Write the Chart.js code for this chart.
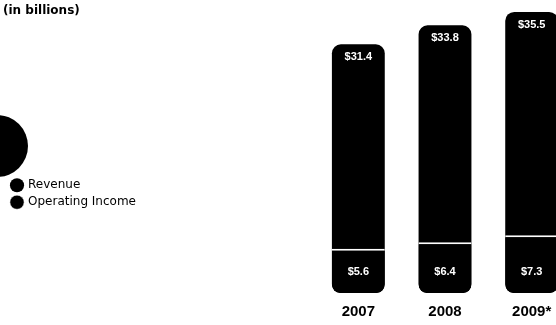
<!DOCTYPE html>
<html>
<head>
<meta charset="utf-8">
<script src="https://cdn.jsdelivr.net/npm/chart.js@4"></script>
<style>
  body { margin: 0; background: #fff; overflow: hidden; }
  #wrap { position: relative; width: 580px; height: 325px; }
  #title { position: absolute; left: 3px; top: 3px; font: bold 12px "DejaVu Sans", sans-serif; color: #000; }
  #blob { position: absolute; left: -34px; top: 115px; width: 62px; height: 62px; border-radius: 50%; background: #000; }
</style>
</head>
<body>
<div id="wrap">
  <div id="title">(in billions)</div>
  <div id="blob"></div>
  <canvas id="myChart" width="580" height="325"></canvas>
</div>
<script>
// datos del grafico
var years = ['2007', '2008', '2009*'];
var revenue = [31.4, 33.8, 35.5];
var operatingIncome = [5.6, 6.4, 7.3];
var revenueLabels = ['$31.4', '$33.8', '$35.5'];
var incomeLabels = ['$5.6', '$6.4', '$7.3'];

// plugin para escribir los valores dentro de las barras
var barText = {
    id: 'barText',
    afterDatasetsDraw: function (chart) {
        var ctx = chart.ctx;
        ctx.save();
        ctx.fillStyle = '#fff';
        ctx.font = 'bold 11px "Liberation Sans", Arial, sans-serif';
        ctx.textAlign = 'center';
        ctx.textBaseline = 'middle';
        chart.getDatasetMeta(1).data.forEach(function (bar, i) {
            ctx.fillText(revenueLabels[i], bar.x, bar.y + 13);
        });
        chart.getDatasetMeta(0).data.forEach(function (bar, i) {
            ctx.fillText(incomeLabels[i], bar.x, bar.base - 21);
        });
        ctx.restore();
    }
};

var ctx = document.getElementById('myChart').getContext('2d');
var chart = new Chart(ctx, {
    type: 'bar',
    data: {
        labels: years,
        datasets: [{
            label: 'Operating Income',
            data: operatingIncome,
            order: 0,
            backgroundColor: '#000',
            borderColor: '#fff',
            borderWidth: { top: 2, left: 0, right: 0, bottom: 0 },
            borderSkipped: false,
            borderRadius: { topLeft: 0, topRight: 0, bottomLeft: 8, bottomRight: 8 }
        }, {
            label: 'Revenue',
            data: revenue,
            order: 1,
            backgroundColor: '#000',
            borderWidth: 0,
            borderSkipped: false,
            borderRadius: 9
        }]
    },
    options: {
        responsive: false,
        animation: false,
        layout: { padding: { top: 0, right: 5, bottom: 0, left: 7 } },
        datasets: { bar: { categoryPercentage: 1, barPercentage: 0.61 } },
        plugins: {
            tooltip: { enabled: false },
            legend: {
                position: 'left',
                align: 'center',
                reverse: true,
                title: { display: true, text: ' ', padding: { top: 48, bottom: 0 } },
                labels: {
                    usePointStyle: true,
                    pointStyle: 'circle',
                    boxWidth: 10,
                    boxHeight: 10,
                    padding: 5,
                    color: '#000',
                    font: { family: '"DejaVu Sans", sans-serif', size: 12 }
                }
            }
        },
        scales: {
            x: {
                stacked: true,
                grid: { display: false, drawTicks: false },
                border: { display: false },
                ticks: {
                    color: '#000',
                    padding: 11,
                    font: { family: '"Liberation Sans", Arial, sans-serif', size: 15, weight: 'bold', lineHeight: 1 }
                },
                afterFit: function (scale) {
                    scale.height = 32;
                }
            },
            y: {
                stacked: false,
                min: 0,
                max: 37,
                grid: { display: false },
                border: { display: false },
                ticks: { display: false },
                afterFit: function (scale) {
                    var lw = scale.chart.legend ? scale.chart.legend.width : 0;
                    scale.width = Math.max(0, 308 - lw);
                }
            }
        }
    },
    plugins: [barText]
});
</script>
</body>
</html>
